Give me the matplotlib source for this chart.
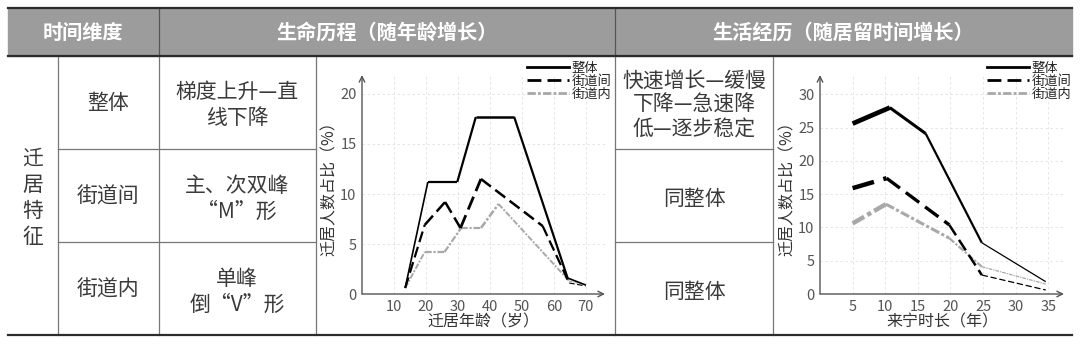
import matplotlib.pyplot as plt
from matplotlib.lines import Line2D

plt.rcParams['font.family'] = ['Noto Sans CJK SC', 'DejaVu Sans']

# header / table text
headers = ['时间维度', '生命历程（随年龄增长）', '生活经历（随居留时间增长）']
side_label = '迁居特征'
row_labels = ['整体', '街道间', '街道内']
life_desc = ['梯度上升—直\n线下降', '主、次双峰\n“M”形', '单峰\n倒“V”形']
stay_desc = ['快速增长—缓慢\n下降—急速降\n低—逐步稳定', '同整体', '同整体']
series_names = ['整体', '街道间', '街道内']

# left chart: share of movers by age at move (%)
age_all = [13.5, 20.6, 29.8, 35.6, 47.6, 64.3, 70]
val_all = [0.6, 11.2, 11.2, 17.7, 17.7, 1.6, 0.9]
age_between = [13.5, 19.6, 26.0, 30.8, 37.2, 56.5, 64.8, 70]
val_between = [0.6, 6.9, 9.2, 6.6, 11.5, 6.8, 1.1, 0.8]
age_within = [13.5, 19.6, 25.8, 31.0, 37.2, 42.7, 64.8, 70]
val_within = [0.6, 4.2, 4.2, 6.6, 6.6, 9.0, 1.3, 0.9]
age_ticks = [10, 20, 30, 40, 50, 60, 70]
age_yticks = [0, 5, 10, 15, 20]

# right chart: share of movers by years in Nanjing (%)
yr_all = [5, 10.7, 16.2, 24.8, 34.6]
yval_all = [25.6, 28.0, 24.1, 7.7, 1.85]
yr_between = [5, 10.2, 19.8, 24.8, 34.6]
yval_between = [15.9, 17.4, 10.4, 2.85, 0.6]
yr_within = [5, 10.1, 19.8, 24.8, 34.6]
yval_within = [10.6, 13.5, 8.4, 4.1, 1.5]
yr_ticks = [5, 10, 15, 20, 25, 30, 35]
yr_yticks = [0, 5, 10, 15, 20, 25, 30]

W, H = 1080, 346
fig = plt.figure(figsize=(W / 100, H / 100), dpi=100)
tab = fig.add_axes([0, 0, 1, 1])
tab.set_xlim(0, W)
tab.set_ylim(H, 0)
tab.axis('off')

# header band
tab.add_patch(plt.Rectangle((8, 8), 1064, 48, color='#9c9c9c', zorder=1))
tab.plot([8, 1072], [8, 8], color='#2b2b2b', lw=1.6, zorder=3)
tab.plot([8, 1072], [56, 56], color='#2b2b2b', lw=1.6, zorder=3)
tab.plot([8, 1072], [335, 335], color='#2b2b2b', lw=1.6, zorder=3)
for x in [159, 615]:
    tab.plot([x, x], [8, 56], color='#555555', lw=0.9, zorder=2)
for x in [58, 159, 316, 615, 773]:
    tab.plot([x, x], [56, 335], color='#777777', lw=0.9, zorder=2)
for y in [149, 242]:
    tab.plot([58, 316], [y, y], color='#777777', lw=0.9, zorder=2)
    tab.plot([615, 773], [y, y], color='#777777', lw=0.9, zorder=2)

for txt, cx in zip(headers, [83, 387, 843]):
    tab.text(cx, 32, txt, color='white', fontsize=14.5, fontweight='bold',
             ha='center', va='center', zorder=4)

tab.text(33, 198, '\n'.join(side_label), fontsize=15, color='#3a3a3a',
         ha='center', va='center', linespacing=1.25)
row_y = [103, 197, 290]
for lab, d1, d2, y in zip(row_labels, life_desc, stay_desc, row_y):
    tab.text(108, y, lab, fontsize=15, color='#3a3a3a', ha='center', va='center')
    tab.text(237, y + 2, d1, fontsize=15, color='#3a3a3a', ha='center', va='center',
             linespacing=1.2)
    tab.text(694, y + 2, d2, fontsize=15, color='#3a3a3a', ha='center', va='center',
             linespacing=1.15)


def px_axes(x0, x1, y_bottom, y_top):
    return fig.add_axes([x0 / W, (H - y_bottom) / H, (x1 - x0) / W, (y_bottom - y_top) / H])


def draw_series(ax, xs, ys, color, dashes, widths):
    for i in range(len(xs) - 1):
        ln, = ax.plot(xs[i:i + 2], ys[i:i + 2], color=color, lw=widths[i],
                      solid_capstyle='butt', dash_capstyle='butt', zorder=3)
        if dashes:
            ln.set_dashes(dashes)


def style_chart(ax, xmax, ymax, xticks, yticks, xlabel, ylabel):
    ax.set_xlim(0, xmax)
    ax.set_ylim(0, ymax)
    ax.set_facecolor('none')
    for s in ax.spines.values():
        s.set_visible(False)
    ax.set_xticks(xticks)
    ax.set_yticks(yticks)
    ax.tick_params(length=0, labelsize=10.5, colors='#555555', pad=4)
    for x in xticks:
        ax.plot([x, x], [0, ymax], color='#e2e2e2', lw=0.6, dashes=(3, 3), zorder=1)
    for y in yticks[1:]:
        ax.plot([0, xmax], [y, y], color='#e2e2e2', lw=0.6, dashes=(3, 3), zorder=1)
    ax.annotate('', xy=(1, 0), xytext=(0, 0), xycoords='axes fraction',
                arrowprops=dict(arrowstyle='->', color='#555555', lw=1.0,
                                shrinkA=0, shrinkB=0))
    ax.annotate('', xy=(0, 1), xytext=(0, 0), xycoords='axes fraction',
                arrowprops=dict(arrowstyle='->', color='#555555', lw=1.0,
                                shrinkA=0, shrinkB=0))
    ax.set_xlabel(xlabel, fontsize=11.5, color='#333333', labelpad=0)
    ax.set_ylabel(ylabel, fontsize=11.5, color='#333333', labelpad=2)


black_dash = (5, 2.2)
gray_dash = (3, 0.8, 1, 0.8)
gray = '#a8a8a8'

ax1 = px_axes(362, 605, 294, 75)
style_chart(ax1, 76, 21.9, age_ticks, age_yticks, '迁居年龄（岁）', '迁居人数占比（%）')
draw_series(ax1, age_within, val_within, gray, gray_dash, [1.4, 1.6, 1.6, 1.6, 1.8, 1.4, 0.8])
draw_series(ax1, age_between, val_between, 'black', black_dash, [1.6, 1.8, 1.8, 2.0, 1.8, 1.6, 0.8])
draw_series(ax1, age_all, val_all, 'black', None, [1.2, 1.6, 1.6, 1.8, 1.6, 1.2, 0.7])

ax2 = px_axes(820, 1064, 294, 75)
style_chart(ax2, 37.4, 32.9, yr_ticks, yr_yticks, '来宁时长（年）', '迁居人数占比（%）')
draw_series(ax2, yr_within, yval_within, gray, gray_dash, [3.2, 2.2, 1.6, 0.9])
draw_series(ax2, yr_between, yval_between, 'black', black_dash, [3.2, 2.4, 1.8, 0.9])
draw_series(ax2, yr_all, yval_all, 'black', None, [3.4, 2.2, 1.6, 0.9])

handles = [Line2D([], [], color='black', lw=2.0),
           Line2D([], [], color='black', lw=2.0, dashes=black_dash),
           Line2D([], [], color=gray, lw=2.0, dashes=gray_dash)]
for ax, lx in [(ax1, 527), (ax2, 987)]:
    ax.legend(handles, series_names, loc='upper left', frameon=False,
              bbox_to_anchor=(lx / W, 1 - 62 / H), bbox_transform=fig.transFigure,
              fontsize=9.5, handlelength=3.2, handletextpad=0.2, labelspacing=0.0,
              borderpad=0, borderaxespad=0, labelcolor='#222222')

fig.savefig('out.png', dpi=100)
